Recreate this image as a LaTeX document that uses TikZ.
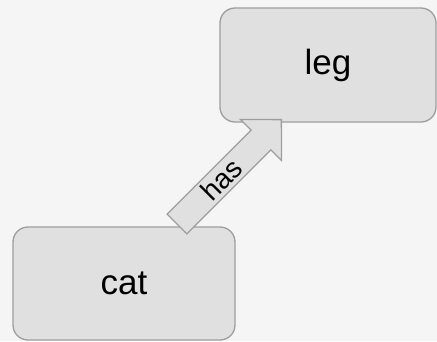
\documentclass[tikz,border=0pt]{standalone}
\usepackage{fontspec}
\setmainfont{Liberation Sans}
\definecolor{bg}{HTML}{F5F5F5}
\definecolor{boxfill}{HTML}{E0E0E0}
\definecolor{boxline}{HTML}{9E9E9E}
\begin{document}
\begin{tikzpicture}[x=1pt,y=1pt,
  concept/.style={draw=boxline, fill=boxfill, line width=1.3pt, rounded corners=15pt,
    inner sep=0pt, font=\fontsize{35}{40}\selectfont},
  blockarrow/.style={draw=boxline, fill=boxfill, line width=1.3pt, line join=miter}]
\fill[bg] (0,0) rectangle (437,341);
\useasboundingbox (0,0) rectangle (437,341);
\node[concept, minimum width=222pt, minimum height=113pt] (cat) at (124,57.5) {cat};
\node[concept, minimum width=216pt, minimum height=114pt] (leg) at (328,276) {leg};
\coordinate (tail) at (177,117);
\coordinate (tip) at (281.7,221);
\begin{scope}[shift={(tail)}, rotate=45]
  \draw[blockarrow] (0,-14) -- (118.8,-14) -- (118.8,-29) -- (147.6,0)
    -- (118.8,29) -- (118.8,14) -- (0,14) -- cycle;
  \node[font=\fontsize{28}{30}\selectfont, inner sep=0pt, rotate=45] (has) at (63,0) {has};
\end{scope}
\end{tikzpicture}
\end{document}
